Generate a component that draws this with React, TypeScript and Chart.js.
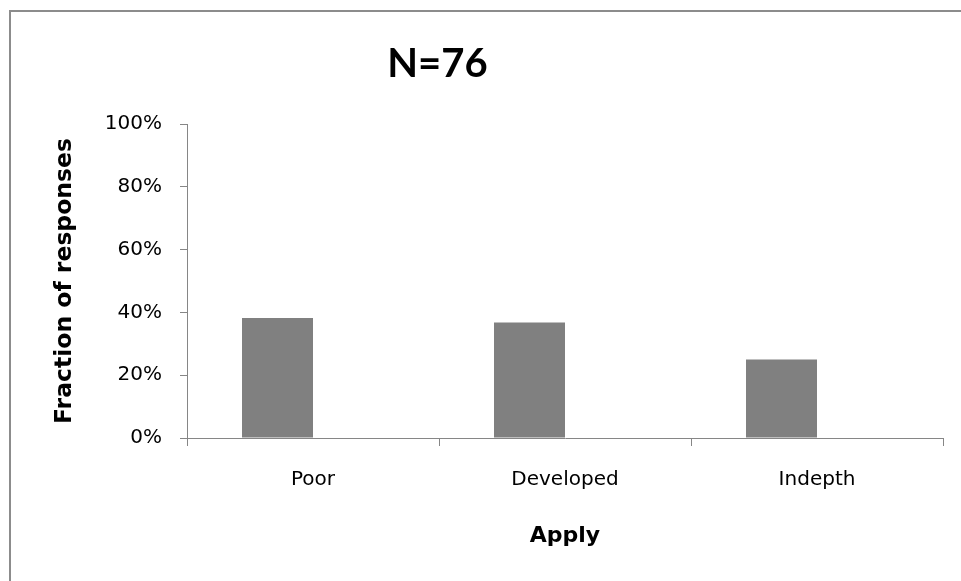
import React, { useEffect, useRef } from 'react';
import { Chart, registerables } from 'chart.js';

Chart.register(...registerables);

const categories = ['Poor', 'Developed', 'Indepth'];
const fractions = [0.382, 0.368, 0.25];
const emptySeries: (number | null)[] = [null, null, null];
const yTickValues = [0, 0.2, 0.4, 0.6, 0.8, 1];
const chartTitle = 'N=76';
const xAxisTitle = 'Apply';
const yAxisTitle = 'Fraction of responses';

const W = 961;
const H = 581;

const titlePlugin = {
  id: 'customTitle',
  afterDraw(chart: any) {
    const ctx = chart.ctx;
    ctx.save();
    ctx.font = 'bold 40px Lato';
    ctx.fillStyle = '#000';
    ctx.textAlign = 'center';
    ctx.textBaseline = 'alphabetic';
    ctx.fillText(chartTitle, 437.5, 77);
    ctx.restore();
  },
};

export default function App() {
  const ref = useRef<HTMLCanvasElement | null>(null);

  useEffect(() => {
    if (!ref.current) return;
    const axisColor = '#868686';
    const chart = new Chart(ref.current, {
      type: 'bar',
      data: {
        labels: categories,
        datasets: [
          {
            label: 'Fraction',
            data: fractions,
            backgroundColor: '#808080',
            borderWidth: 0,
            categoryPercentage: 0.5635,
            barPercentage: 1,
          },
          {
            label: 'Empty',
            data: emptySeries,
            backgroundColor: '#808080',
            borderWidth: 0,
            categoryPercentage: 0.5635,
            barPercentage: 1,
          },
        ],
      },
      options: {
        responsive: false,
        animation: false,
        devicePixelRatio: 1,
        layout: { padding: { top: 124, right: 18, left: 0, bottom: 0 } },
        plugins: {
          legend: { display: false },
          tooltip: { enabled: false },
          title: { display: false },
        },
        scales: {
          x: {
            grid: {
              offset: true,
              drawOnChartArea: false,
              drawTicks: true,
              tickLength: 8,
              color: axisColor,
            },
            border: { display: true, color: axisColor, width: 1 },
            ticks: {
              color: '#000',
              font: { family: 'DejaVu Sans', size: 20 },
              padding: 22,
              maxRotation: 0,
            },
            title: {
              display: true,
              text: xAxisTitle,
              color: '#000',
              font: { family: 'DejaVu Sans', size: 22, weight: 'bold' },
              padding: { top: 0, bottom: 32 },
            },
            afterFit(scale: any) {
              scale.height = H - 438;
            },
          },
          y: {
            min: 0,
            max: 1,
            grid: {
              drawOnChartArea: false,
              drawTicks: true,
              tickLength: 7,
              color: axisColor,
            },
            border: { display: true, color: axisColor, width: 1 },
            afterBuildTicks(scale: any) {
              scale.ticks = yTickValues.map((v) => ({ value: v }));
            },
            ticks: {
              color: '#000',
              font: { family: 'DejaVu Sans', size: 20 },
              padding: 18,
              callback: (v: any) => `${Math.round(Number(v) * 100)}%`,
            },
            title: {
              display: true,
              text: yAxisTitle,
              color: '#000',
              font: { family: 'DejaVu Sans', size: 23.5, weight: 'bold' },
              padding: { top: 51, bottom: 0 },
            },
            afterFit(scale: any) {
              scale.width = 187;
            },
          },
        },
      },
      plugins: [titlePlugin],
    });
    return () => chart.destroy();
  }, []);

  return (
    <div style={{ position: 'absolute', left: 0, top: 0, width: W, height: H, background: '#fff' }}>
      <div
        style={{
          position: 'absolute',
          left: 9,
          top: 10,
          width: W,
          height: H,
          borderTop: '2px solid #8c8c8c',
          borderLeft: '2px solid #8c8c8c',
        }}
      />
      <canvas ref={ref} width={W} height={H} style={{ position: 'absolute', left: 0, top: 0 }} />
    </div>
  );
}
